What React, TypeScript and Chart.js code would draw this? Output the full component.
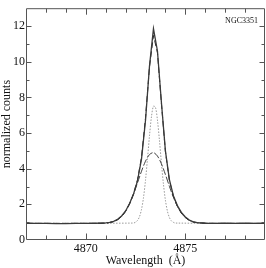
import React, { useEffect, useRef } from 'react';
import { Chart, registerables } from 'chart.js';

Chart.register(...registerables);

// Observed spectrum (solid)
const obsWavelength = [
  4867, 4867.5, 4868, 4868.5, 4869, 4869.5, 4870, 4870.5, 4871,
  4871.2, 4871.4, 4871.6, 4871.8, 4872.0, 4872.2, 4872.4, 4872.6, 4872.8, 4873.0,
  4873.2, 4873.4, 4873.6, 4873.8, 4874.0, 4874.2, 4874.4, 4874.6, 4874.8, 4875.0,
  4875.2, 4875.4, 4875.6,
  4876, 4876.5, 4877, 4877.5, 4878, 4878.5, 4879,
];
const obsCounts = [
  0.94, 0.93, 0.93, 0.92, 0.92, 0.93, 0.93, 0.94, 0.96,
  0.99, 1.05, 1.16, 1.35, 1.63, 2.05, 2.58, 3.33, 4.55, 6.70,
  9.75, 11.85, 10.60, 7.70, 5.00, 3.38, 2.48, 1.93, 1.55, 1.29,
  1.12, 1.02, 0.97,
  0.94, 0.93, 0.94, 0.93, 0.94, 0.93, 0.94,
];

// Total fit (dashed, over the spectrum)
const fitCounts = [
  0.93, 0.93, 0.93, 0.93, 0.93, 0.93, 0.93, 0.93, 0.95,
  0.98, 1.03, 1.14, 1.32, 1.61, 2.03, 2.60, 3.38, 4.64, 6.84,
  9.71, 11.47, 10.51, 7.65, 4.96, 3.34, 2.45, 1.90, 1.51, 1.26,
  1.10, 1.01, 0.97,
  0.94, 0.93, 0.93, 0.93, 0.93, 0.93, 0.93,
];

// Broad component (dashed)
const broadCounts = [
  0.93, 0.93, 0.93, 0.93, 0.93, 0.93, 0.93, 0.93, 0.95,
  0.98, 1.03, 1.14, 1.32, 1.61, 2.03, 2.57, 3.21, 3.86, 4.42,
  4.79, 4.90, 4.71, 4.27, 3.67, 3.01, 2.40, 1.89, 1.51, 1.26,
  1.10, 1.01, 0.97,
  0.94, 0.93, 0.93, 0.93, 0.93, 0.93, 0.93,
];

// Narrow component (dotted)
const narrowWavelength = [
  4867, 4872.4, 4872.5, 4872.6, 4872.7, 4872.8, 4872.9, 4873.0, 4873.1, 4873.2,
  4873.3, 4873.4, 4873.5, 4873.6, 4873.7, 4873.8, 4873.9, 4874.0, 4874.1, 4874.2,
  4874.3, 4874.4, 4874.5, 4879,
];
const narrowCounts = [
  0.93, 0.95, 1.00, 1.10, 1.31, 1.72, 2.38, 3.35, 4.56, 5.84,
  6.92, 7.51, 7.44, 6.73, 5.59, 4.31, 3.14, 2.23, 1.62, 1.26,
  1.07, 0.99, 0.95, 0.93,
];

const xTickLabels = [4870, 4875];
const yTickLabels = [0, 2, 4, 6, 8, 10, 12];
const objectName = 'NGC3351';

const FONT = "'Liberation Serif', 'Times New Roman', serif";
const TEXT = '#111';

const pts = (xs: number[], ys: number[]) => xs.map((x, i) => ({ x, y: ys[i] }));

const framePlugin = {
  id: 'frame',
  afterDraw(chart: any) {
    const { ctx, chartArea: a, scales } = chart;
    const xs = scales.x;
    const ys = scales.y;
    ctx.save();
    ctx.strokeStyle = '#555';
    ctx.lineWidth = 1;
    ctx.beginPath();
    const L = a.left + 0.5, R = a.right - 0.5, T = a.top + 0.5, B = a.bottom - 0.5;
    ctx.moveTo(L, T); ctx.lineTo(R, T); ctx.lineTo(R, B); ctx.lineTo(L, B); ctx.closePath();
    for (let v = 4868; v <= 4878; v++) {
      const px = Math.round(xs.getPixelForValue(v)) + 0.5;
      const len = v % 5 === 0 ? 6 : 4;
      ctx.moveTo(px, B); ctx.lineTo(px, B - len);
      ctx.moveTo(px, T); ctx.lineTo(px, T + len);
    }
    for (let v = 1; v <= 12; v++) {
      const py = Math.round(ys.getPixelForValue(v)) + 0.5;
      const len = v % 2 === 0 ? 5 : 3;
      ctx.moveTo(L, py); ctx.lineTo(L + len, py);
      ctx.moveTo(R, py); ctx.lineTo(R - len, py);
    }
    ctx.stroke();
    ctx.fillStyle = TEXT;
    ctx.font = `8px ${FONT}`;
    ctx.textAlign = 'right';
    ctx.textBaseline = 'alphabetic';
    ctx.fillText(objectName, a.right - 7, a.top + 15);
    ctx.restore();
  },
};

export default function App() {
  const ref = useRef<HTMLCanvasElement>(null);
  useEffect(() => {
    if (!ref.current) return;
    const chart = new Chart(ref.current, {
      type: 'line',
      data: {
        datasets: [
          {
            data: pts(obsWavelength, obsCounts),
            borderColor: '#3a3a3a',
            borderWidth: 1.3,
            pointRadius: 0,
            tension: 0,
            order: 0,
          },
          {
            data: pts(obsWavelength, fitCounts),
            borderColor: '#222',
            borderWidth: 1,
            borderDash: [6, 3],
            pointRadius: 0,
            tension: 0,
            order: 1,
          },
          {
            data: pts(obsWavelength, broadCounts),
            borderColor: '#444',
            borderWidth: 1,
            borderDash: [7, 2],
            pointRadius: 0,
            tension: 0.3,
            order: 2,
          },
          {
            data: pts(narrowWavelength, narrowCounts),
            borderColor: '#9a9a9a',
            borderWidth: 1,
            borderDash: [1.5, 1.5],
            pointRadius: 0,
            tension: 0.3,
            order: 3,
          },
        ],
      },
      options: {
        responsive: false,
        animation: false,
        devicePixelRatio: 1,
        layout: { padding: { top: 0, right: 1, left: 0, bottom: 0 } },
        plugins: { legend: { display: false }, tooltip: { enabled: false } },
        scales: {
          x: {
            type: 'linear',
            min: 4867,
            max: 4879,
            grid: { display: false, drawTicks: false },
            border: { display: false },
            afterBuildTicks: (s: any) => { s.ticks = xTickLabels.map((value) => ({ value })); },
            afterFit: (s: any) => { s.height = 28; },
            ticks: { color: TEXT, font: { family: FONT, size: 12 }, padding: 2, maxRotation: 0, callback: (v: any) => String(v) },
            title: { display: true, text: 'Wavelength  (Å)', color: TEXT, font: { family: FONT, size: 12 }, padding: 0 },
          },
          y: {
            type: 'linear',
            min: 0,
            max: 13,
            grid: { display: false, drawTicks: false },
            border: { display: false },
            afterBuildTicks: (s: any) => { s.ticks = yTickLabels.map((value) => ({ value })); },
            afterFit: (s: any) => { s.width = 26; },
            ticks: { color: TEXT, font: { family: FONT, size: 12 }, padding: 1, callback: (v: any) => String(v) },
            title: { display: true, text: 'normalized counts', color: TEXT, font: { family: FONT, size: 12 }, padding: 0 },
          },
        },
      },
      plugins: [framePlugin],
    });
    return () => chart.destroy();
  }, []);
  return (
    <div style={{ position: 'absolute', left: 0, top: 0, width: 266, height: 268 }}>
      <canvas ref={ref} width={266} height={268} style={{ display: 'block' }} />
    </div>
  );
}
